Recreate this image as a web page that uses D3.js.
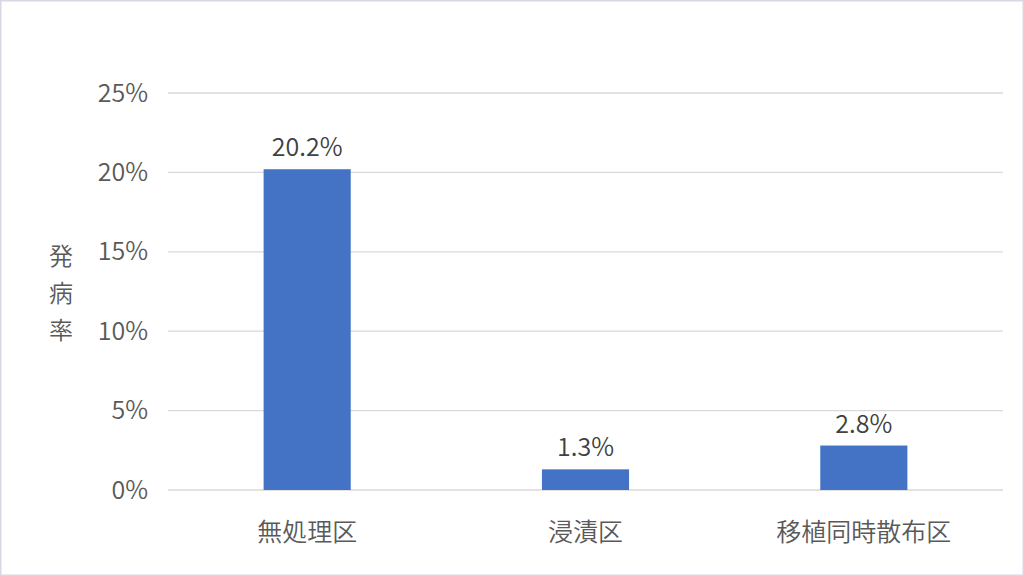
<!DOCTYPE html>
<html>
<head>
<meta charset="utf-8">
<script src="https://cdn.jsdelivr.net/npm/d3@7"></script>
<style>
  html, body { margin: 0; padding: 0; background: #fff; }
  svg { display: block; font-family: "Noto Sans CJK JP", "Noto Sans", sans-serif; font-weight: 350; }
</style>
</head>
<body>
<div id="chart"></div>
<script>
let width = 1024;
let height = 576;
let margin = ({top: 93, right: 21, bottom: 86, left: 168});

let categories = ["無処理区", "浸漬区", "移植同時散布区"];
let values = [20.2, 1.3, 2.8];
let yTicks = [0, 5, 10, 15, 20, 25];
let yTitle = ["発", "病", "率"];

let x = d3.scaleBand()
    .domain(categories)
    .range([margin.left, width - margin.right])
    .padding(0);
let barW = x.bandwidth() * 0.313;

let y = d3.scaleLinear()
    .domain([0, 25])
    .range([height - margin.bottom, margin.top]);

let svg = d3.select("#chart")
    .append("svg")
    .attr("width", width)
    .attr("height", height)
    .attr("viewBox", [0, 0, width, height]);

// outer border
svg.append("rect")
    .attr("x", 0.5).attr("y", 0.5)
    .attr("width", width - 1).attr("height", height - 1)
    .attr("fill", "#fff")
    .attr("stroke", "#d6d9e4")
    .attr("stroke-width", 2);

// gridlines
svg.append("g")
    .attr("class", "grid")
    .selectAll("line")
    .data(yTicks)
    .join("line")
    .attr("x1", margin.left)
    .attr("x2", width - margin.right)
    .attr("y1", d => y(d))
    .attr("y2", d => y(d))
    .attr("stroke", "#d9d9d9")
    .attr("stroke-width", 1.3);

// y axis labels
let yAxis = g => g
    .attr("transform", `translate(${margin.left - 20},0)`)
    .call(d3.axisLeft(y).tickValues(yTicks).tickFormat(d => d + "%").tickSize(0).tickPadding(0))
    .call(g => g.select(".domain").remove())
    .call(g => g.selectAll("text")
        .attr("fill", "#595959")
        .attr("font-size", 25)
        .attr("font-family", "'Noto Sans CJK JP', sans-serif"));

svg.append("g").attr("class", "y-axis").call(yAxis);

// x axis labels
let xAxis = g => g
    .attr("transform", `translate(0,${height - margin.bottom})`)
    .call(d3.axisBottom(x).tickSize(0).tickPadding(33))
    .call(g => g.select(".domain").remove())
    .call(g => g.selectAll("text")
        .attr("fill", "#595959")
        .attr("font-size", 25)
        .attr("font-family", "'Noto Sans CJK JP', sans-serif"));

svg.append("g").attr("class", "x-axis").call(xAxis);

// bars
svg.append("g")
    .attr("class", "bars")
    .attr("fill", "#4472c4")
    .selectAll("rect")
    .data(values)
    .join("rect")
    .attr("x", (d, i) => x(categories[i]) + x.bandwidth() / 2 - barW / 2)
    .attr("y", d => y(d))
    .attr("width", barW)
    .attr("height", d => y(0) - y(d));

// data labels
svg.append("g")
    .attr("class", "labels")
    .selectAll("text")
    .data(values)
    .join("text")
    .attr("x", (d, i) => x(categories[i]) + x.bandwidth() / 2)
    .attr("y", d => y(d) - 13)
    .attr("text-anchor", "middle")
    .attr("fill", "#404040")
    .attr("font-size", 25)
    .text(d => d.toFixed(1) + "%");

// y title, stacked vertically
svg.append("g")
    .attr("class", "y-title")
    .selectAll("text")
    .data(yTitle)
    .join("text")
    .attr("x", 61)
    .attr("y", (d, i) => 265 + i * 37)
    .attr("text-anchor", "middle")
    .attr("fill", "#595959")
    .attr("font-size", 24)
    .text(d => d);
</script>
</body>
</html>
